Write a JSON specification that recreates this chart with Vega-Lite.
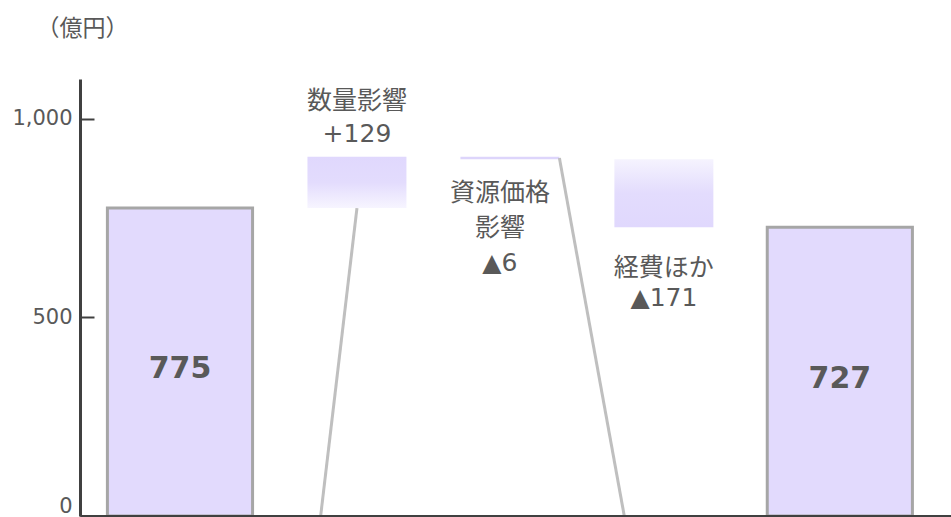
{
  "$schema": "https://vega.github.io/schema/vega-lite/v6.json",
  "width": 871,
  "height": 437,
  "autosize": {"type": "none"},
  "padding": {"left": 80, "top": 79, "right": 0, "bottom": 1},
  "background": "#ffffff",
  "config": {
    "view": {"stroke": null},
    "axis": {"grid": false},
    "text": {"font": "DejaVu Sans, Noto Sans CJK JP", "color": "#595959"}
  },
  "datasets": {
    "bars": [
      {"item": "前期", "start": 0, "end": 775, "kind": "total", "label": "775"},
      {"item": "数量影響", "start": 775, "end": 904, "kind": "up", "label": "数量影響\n+129"},
      {"item": "資源価格影響", "start": 904, "end": 898, "kind": "small", "label": "資源価格\n影響\n▲6"},
      {"item": "経費ほか", "start": 898, "end": 727, "kind": "down", "label": "経費ほか\n▲171"},
      {"item": "当期", "start": 0, "end": 727, "kind": "total", "label": "727"}
    ],
    "links": [
      {"line": "a", "from": "数量影響", "to": "数量影響", "y0": 0, "y1": 775},
      {"line": "b", "from": "資源価格影響", "to": "経費ほか", "y0": 901, "y1": 0}
    ]
  },
  "layer": [
    {
      "data": {"name": "bars"},
      "transform": [{"filter": "datum.kind === 'total'"}],
      "mark": {"type": "bar", "fill": "#e2dafd", "stroke": "#a6a6a6", "strokeWidth": 3, "width": {"band": 0.88}},
      "encoding": {
        "x": {
          "field": "item", "type": "nominal", "sort": null,
          "scale": {"domain": ["前期", "数量影響", "資源価格影響", "経費ほか", "当期"], "paddingInner": 0, "paddingOuter": 0.14, "align": 0.379},
          "axis": {"labels": false, "ticks": false, "title": null, "domainColor": "#404040", "domainWidth": 3, "zindex": 1}
        },
        "y": {
          "field": "end", "type": "quantitative",
          "scale": {"domain": [0, 1100], "nice": false, "zero": true},
          "axis": {
            "title": "（億円）", "titleAngle": 0, "titleX": 2, "titleY": -51, "titleAlign": "center", "titleBaseline": "middle",
            "titleFontSize": 23, "titleFontWeight": "normal", "titleColor": "#595959", "titleFont": "Noto Sans CJK JP",
            "values": [0, 500, 1000], "format": ",.0f", "labelFontSize": 21, "labelColor": "#595959", "labelFont": "DejaVu Sans",
            "labelFlush": true, "labelFlushOffset": 0,
            "domainColor": "#404040", "domainWidth": 3, "tickColor": "#404040", "tickWidth": 2, "tickSize": -14, "labelPadding": 22, "zindex": 1
          }
        },
        "y2": {"field": "start"}
      }
    },
    {
      "data": {"name": "bars"},
      "transform": [{"filter": "datum.kind === 'up'"}],
      "mark": {"type": "bar", "width": {"band": 0.6}, "xOffset": 12,
        "fill": {"gradient": "linear", "x1": 0, "y1": 0, "x2": 0, "y2": 1,
          "stops": [{"offset": 0, "color": "#e0d8fd"}, {"offset": 0.5, "color": "#e3dcfd"}, {"offset": 1, "color": "#f7f5ff"}]}},
      "encoding": {"x": {"field": "item", "type": "nominal"}, "y": {"field": "end", "type": "quantitative"}, "y2": {"field": "start"}}
    },
    {
      "data": {"name": "bars"},
      "transform": [{"filter": "datum.kind === 'small'"}],
      "mark": {"type": "bar", "width": {"band": 0.6}, "fill": "#ddd5fb"},
      "encoding": {"x": {"field": "item", "type": "nominal"}, "y": {"field": "end", "type": "quantitative"}, "y2": {"field": "start"}}
    },
    {
      "data": {"name": "bars"},
      "transform": [{"filter": "datum.kind === 'down'"}],
      "mark": {"type": "bar", "width": {"band": 0.6}, "xOffset": -11,
        "fill": {"gradient": "linear", "x1": 0, "y1": 0, "x2": 0, "y2": 1,
          "stops": [{"offset": 0, "color": "#f5f3fe"}, {"offset": 0.5, "color": "#e3dcfd"}, {"offset": 1, "color": "#e0d8fd"}]}},
      "encoding": {"x": {"field": "item", "type": "nominal"}, "y": {"field": "end", "type": "quantitative"}, "y2": {"field": "start"}}
    },
    {
      "data": {"name": "links"},
      "transform": [{"filter": "datum.line === 'a'"}],
      "mark": {"type": "rule", "color": "#bfbfbf", "strokeWidth": 3, "xOffset": 12, "x2Offset": 12},
      "encoding": {
        "x": {"field": "from", "type": "nominal", "bandPosition": 0.28},
        "x2": {"field": "to", "bandPosition": 0.5},
        "y": {"field": "y0", "type": "quantitative"},
        "y2": {"field": "y1"}
      }
    },
    {
      "data": {"name": "links"},
      "transform": [{"filter": "datum.line === 'b'"}],
      "mark": {"type": "rule", "color": "#bfbfbf", "strokeWidth": 3, "x2Offset": -11},
      "encoding": {
        "x": {"field": "from", "type": "nominal", "bandPosition": 0.8},
        "x2": {"field": "to", "bandPosition": 0.26},
        "y": {"field": "y0", "type": "quantitative"},
        "y2": {"field": "y1"}
      }
    },
    {
      "data": {"name": "bars"},
      "transform": [
        {"filter": "datum.kind === 'total'"},
        {"fold": ["start", "end"], "as": ["edge", "val"]}
      ],
      "mark": {"type": "text", "fontSize": 30, "fontWeight": "bold", "font": "DejaVu Sans", "baseline": "middle", "align": "center", "dy": 7},
      "encoding": {
        "x": {"field": "item", "type": "nominal"},
        "y": {"aggregate": "mean", "field": "val", "type": "quantitative"},
        "text": {"field": "label", "type": "nominal"}
      }
    },
    {
      "data": {"name": "bars"},
      "transform": [{"filter": "datum.kind === 'up'"}],
      "mark": {"type": "text", "fontSize": 25, "lineBreak": "\n", "lineHeight": 33, "baseline": "bottom", "align": "center", "dy": -43, "xOffset": 12},
      "encoding": {"x": {"field": "item", "type": "nominal"}, "y": {"field": "end", "type": "quantitative"}, "text": {"field": "label", "type": "nominal"}}
    },
    {
      "data": {"name": "bars"},
      "transform": [{"filter": "datum.kind === 'small'"}],
      "mark": {"type": "text", "fontSize": 25, "lineBreak": "\n", "lineHeight": 35, "baseline": "top", "align": "center", "dy": 22, "dx": -10},
      "encoding": {"x": {"field": "item", "type": "nominal"}, "y": {"field": "end", "type": "quantitative"}, "text": {"field": "label", "type": "nominal"}}
    },
    {
      "data": {"name": "bars"},
      "transform": [{"filter": "datum.kind === 'down'"}],
      "mark": {"type": "text", "fontSize": 25, "lineBreak": "\n", "lineHeight": 30, "baseline": "top", "align": "center", "dy": 29, "xOffset": -11},
      "encoding": {"x": {"field": "item", "type": "nominal"}, "y": {"field": "end", "type": "quantitative"}, "text": {"field": "label", "type": "nominal"}}
    }
  ]
}
